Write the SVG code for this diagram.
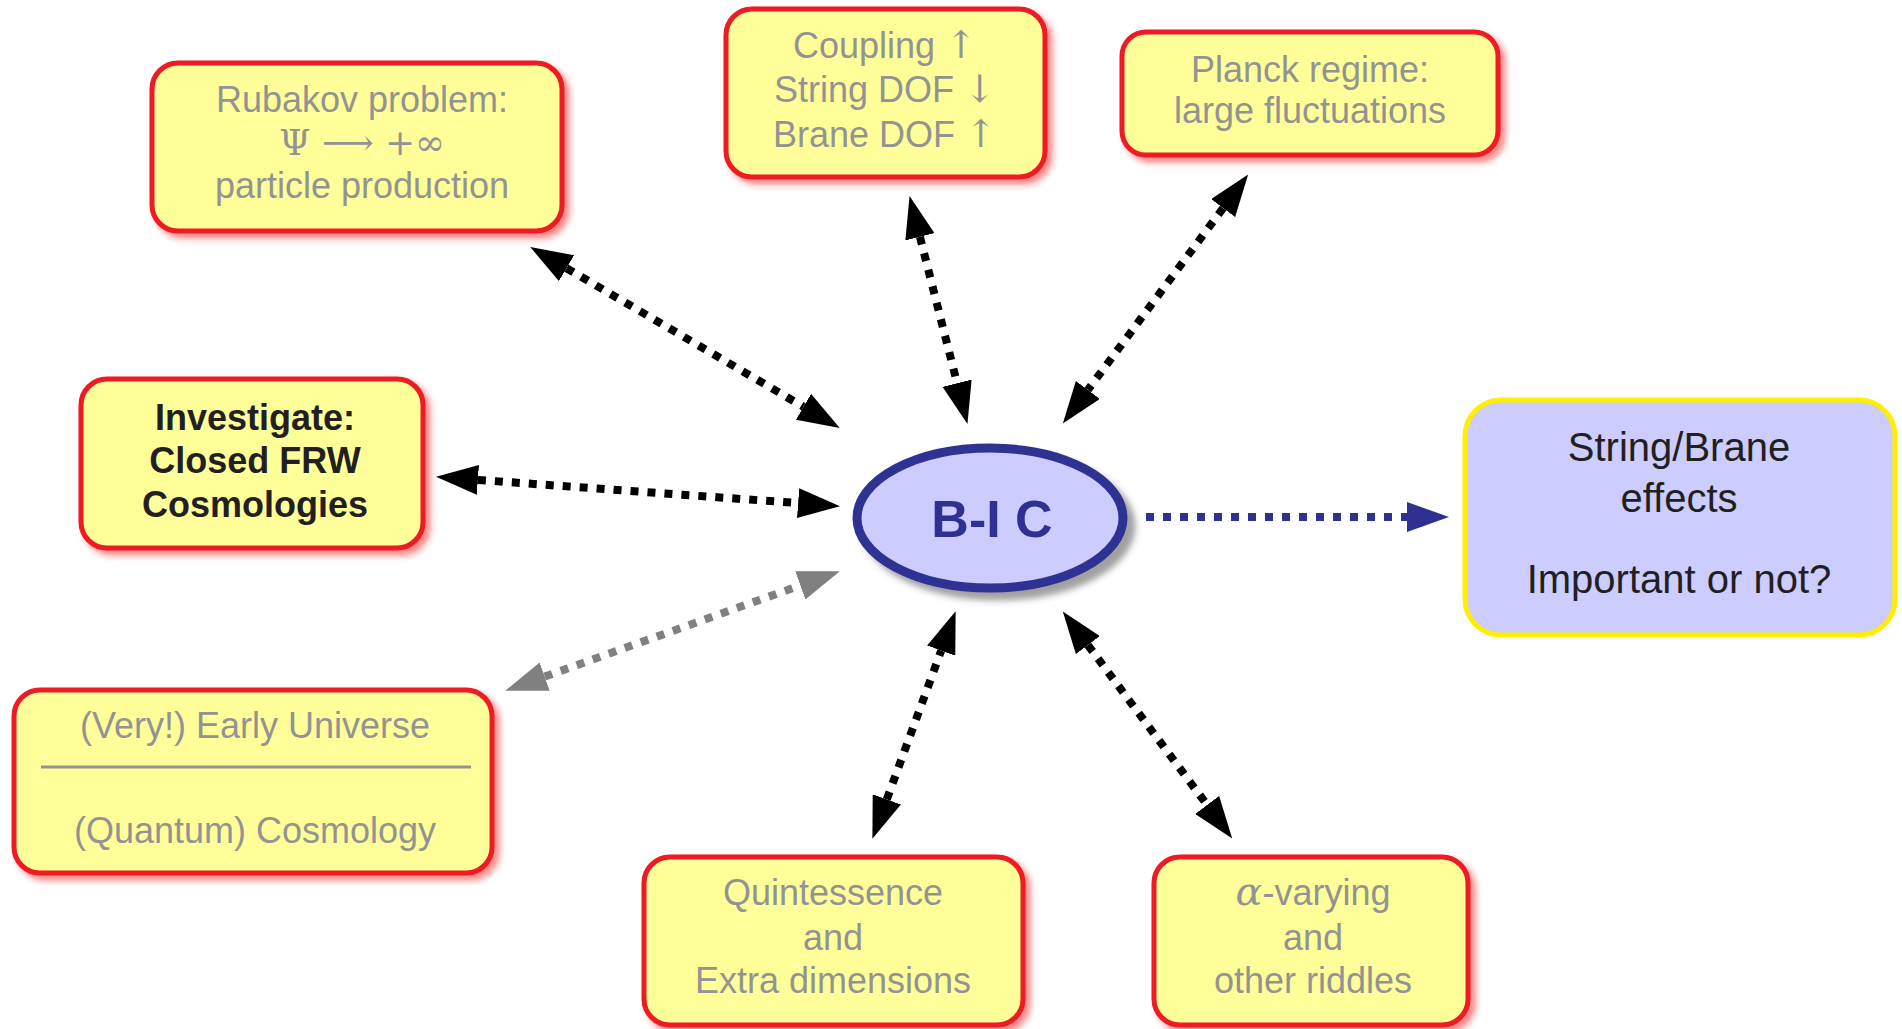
<svg xmlns="http://www.w3.org/2000/svg" width="1902" height="1029" viewBox="0 0 1902 1029">
<style>
.box{fill:#ffff99;stroke:#ee1c24;stroke-width:5}
.t{font-family:"Liberation Sans",Arial,sans-serif;font-size:36px;fill:#939393;text-anchor:middle}
.m{font-family:"DejaVu Serif","Liberation Serif",serif;fill:#939393}
.b{font-family:"Liberation Sans",Arial,sans-serif;font-size:36px;font-weight:bold;fill:#231f20;text-anchor:middle}
.k{font-family:"Liberation Sans",Arial,sans-serif;font-size:40px;fill:#231f20;text-anchor:middle}
.c{fill:none;stroke-width:8;stroke-dasharray:8 9}
</style>
<defs>
<filter id="rs" x="-10%" y="-10%" width="125%" height="130%">
<feGaussianBlur in="SourceAlpha" stdDeviation="3"/>
<feOffset dx="5" dy="5" result="o"/>
<feFlood flood-color="#ff2020" flood-opacity="0.55"/>
<feComposite in2="o" operator="in"/>
<feMerge><feMergeNode/><feMergeNode in="SourceGraphic"/></feMerge>
</filter>
<filter id="gs" x="-10%" y="-10%" width="130%" height="140%">
<feGaussianBlur in="SourceAlpha" stdDeviation="3"/>
<feOffset dx="8" dy="8" result="o"/>
<feFlood flood-color="#444" flood-opacity="0.5"/>
<feComposite in2="o" operator="in"/>
<feMerge><feMergeNode/><feMergeNode in="SourceGraphic"/></feMerge>
</filter>
<marker id="hk" markerUnits="userSpaceOnUse" markerWidth="42" markerHeight="30" viewBox="0 0 42 30" refX="0" refY="15" orient="auto-start-reverse"><path d="M0,0 L42,15 L0,30 z" fill="#000"/></marker>
<marker id="hg" markerUnits="userSpaceOnUse" markerWidth="42" markerHeight="30" viewBox="0 0 42 30" refX="0" refY="15" orient="auto-start-reverse"><path d="M0,0 L42,15 L0,30 z" fill="#808080"/></marker>
<marker id="hb" markerUnits="userSpaceOnUse" markerWidth="42" markerHeight="30" viewBox="0 0 42 30" refX="0" refY="15" orient="auto"><path d="M0,0 L42,15 L0,30 z" fill="#2e3192"/></marker>
</defs>
<rect width="1902" height="1029" fill="#fff"/>

<g id="connectors">
<path class="c" stroke="#000" d="M566.5,268.2 L803.5,406.8" marker-start="url(#hk)" marker-end="url(#hk)"/>
<path class="c" stroke="#000" d="M919.9,236.8 L957.1,383.2" marker-start="url(#hk)" marker-end="url(#hk)"/>
<path class="c" stroke="#000" d="M1223.1,208.1 L1087.9,389.9" marker-start="url(#hk)" marker-end="url(#hk)"/>
<path class="c" stroke="#000" d="M477.9,479.9 L798.1,503.1" marker-start="url(#hk)" marker-end="url(#hk)"/>
<path class="c" stroke="#808080" d="M544.7,676.6 L800.3,585.4" marker-start="url(#hg)" marker-end="url(#hg)"/>
<path class="c" stroke="#2e3192" d="M1146,517 L1407,517" marker-end="url(#hb)"/>
<path class="c" stroke="#000" d="M886.8,799.4 L941.2,650.6" marker-start="url(#hk)" marker-end="url(#hk)"/>
<path class="c" stroke="#000" d="M1087.9,645.1 L1207.1,804.9" marker-start="url(#hk)" marker-end="url(#hk)"/>
</g>

<g id="rubakov">
<rect class="box" x="152" y="63" width="410" height="168" rx="26" filter="url(#rs)"/>
<text class="t" x="362" y="112">Rubakov problem:</text>
<text class="t m" x="362" y="155" font-size="41">Ψ ⟶ +∞</text>
<text class="t" x="362" y="198">particle production</text>
</g>

<g id="coupling">
<rect class="box" x="726" y="9" width="319" height="168" rx="26" filter="url(#rs)"/>
<text class="t" x="885" y="58">Coupling <tspan class="m" font-size="38">↑</tspan></text>
<text class="t" x="885" y="102">String DOF <tspan class="m" font-size="38">↓</tspan></text>
<text class="t" x="885" y="147">Brane DOF <tspan class="m" font-size="38">↑</tspan></text>
</g>

<g id="planck">
<rect class="box" x="1122" y="32" width="376" height="123" rx="24" filter="url(#rs)"/>
<text class="t" x="1310" y="82">Planck regime:</text>
<text class="t" x="1310" y="123">large fluctuations</text>
</g>

<g id="investigate">
<rect class="box" x="81" y="379" width="342" height="169" rx="26" filter="url(#rs)"/>
<text class="b" x="255" y="430">Investigate:</text>
<text class="b" x="255" y="473">Closed FRW</text>
<text class="b" x="255" y="517">Cosmologies</text>
</g>

<g id="bic">
<ellipse cx="990" cy="518" rx="133" ry="70" fill="#ccccff" stroke="#2e3192" stroke-width="9" filter="url(#gs)"/>
<text x="992" y="537" font-family="Liberation Sans, Arial, sans-serif" font-size="52" font-weight="bold" fill="#2e3192" text-anchor="middle">B-I C</text>
</g>

<g id="stringbrane">
<rect x="1465" y="400" width="430" height="235" rx="36" fill="#ccccff" stroke="#ffee00" stroke-width="5"/>
<text class="k" x="1679" y="461">String/Brane</text>
<text class="k" x="1679" y="512">effects</text>
<text class="k" x="1679" y="593">Important or not?</text>
</g>

<g id="early">
<rect class="box" x="14" y="690" width="478" height="183" rx="26" filter="url(#rs)"/>
<text class="t" x="255" y="738">(Very!) Early Universe</text>
<line x1="41" y1="767" x2="471" y2="767" stroke="#939393" stroke-width="3"/>
<text class="t" x="255" y="843">(Quantum) Cosmology</text>
</g>

<g id="quintessence">
<rect class="box" x="644" y="857" width="379" height="168" rx="26" filter="url(#rs)"/>
<text class="t" x="833" y="905">Quintessence</text>
<text class="t" x="833" y="950">and</text>
<text class="t" x="833" y="993">Extra dimensions</text>
</g>

<g id="alpha">
<rect class="box" x="1154" y="857" width="314" height="168" rx="26" filter="url(#rs)"/>
<text class="t" x="1313" y="905"><tspan class="m" font-style="italic" font-size="40">α</tspan>-varying</text>
<text class="t" x="1313" y="950">and</text>
<text class="t" x="1313" y="993">other riddles</text>
</g>
</svg>
